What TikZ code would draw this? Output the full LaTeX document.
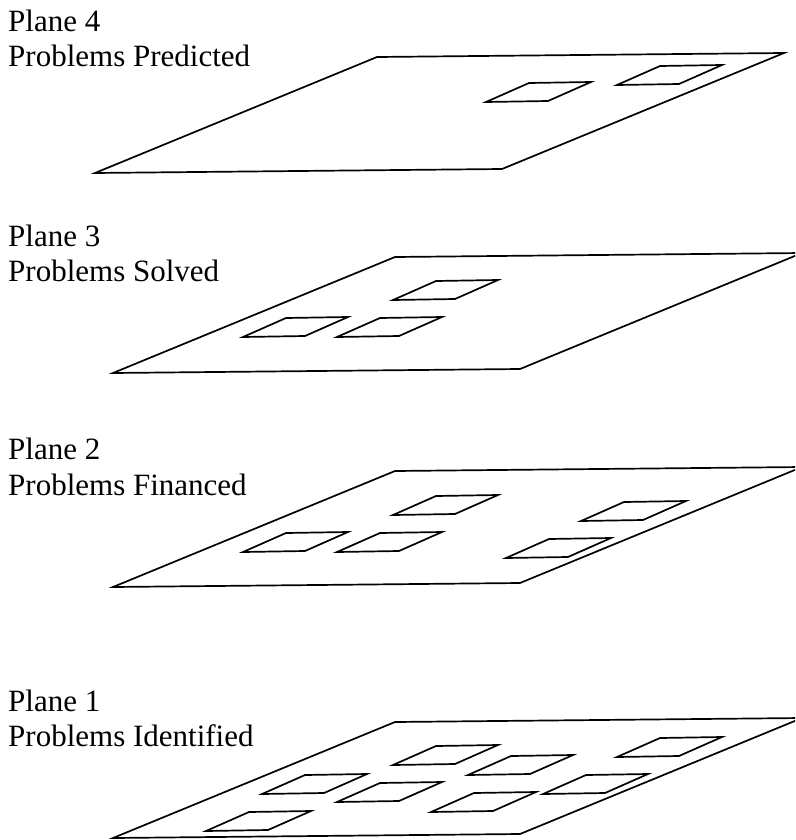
\documentclass[tikz,border=0pt]{standalone}
\usepackage{fontspec}
\setmainfont{Liberation Serif}
\usetikzlibrary{calc}
\begin{document}
\begin{tikzpicture}[x=1pt,y=-1pt,
  outline/.style={draw=black,line width=1.7pt},
  label/.style={anchor=base west,inner sep=0pt,font=\fontsize{31}{35}\selectfont}]
\useasboundingbox (0,0) rectangle (795,840);
\clip (0,0) rectangle (795,840);
% a plane, given by its lower left corner
\newcommand\planeshape[1]{%
  \draw[outline] (#1) -- ++(282,-116) -- ++(407,-4) -- ++(-282,116) -- cycle;}
% a small problem tile, given by its lower left corner
\newcommand\tileshape[1]{%
  \draw[outline] (#1) -- ++(43,-19) -- ++(62,-1) -- ++(-43,19) -- cycle;}

% Plane 4
\node[label] (p4a) at (8,32) {Plane 4};
\node[label] (p4b) at (8,67) {Problems Predicted};
\coordinate (o4) at (95,173);
\planeshape{o4}
\tileshape{$(o4)+(391,-71)$}
\tileshape{$(o4)+(522,-88)$}

% Plane 3
\node[label] (p3a) at (8,246) {Plane 3};
\node[label] (p3b) at (8,281) {Problems Solved};
\coordinate (o3) at (113,373);
\planeshape{o3}
\tileshape{$(o3)+(280,-73)$}
\tileshape{$(o3)+(130,-36)$}
\tileshape{$(o3)+(224,-36)$}

% Plane 2
\node[label] (p2a) at (8,459) {Plane 2};
\node[label] (p2b) at (8,495) {Problems Financed};
\coordinate (o2) at (113,587);
\planeshape{o2}
\tileshape{$(o2)+(280,-72)$}
\tileshape{$(o2)+(130,-35)$}
\tileshape{$(o2)+(224,-35)$}
\tileshape{$(o2)+(468,-66)$}
\tileshape{$(o2)+(393,-29)$}

% Plane 1
\node[label] (p1a) at (8,711) {Plane 1};
\node[label] (p1b) at (8,746) {Problems Identified};
\coordinate (o1) at (113,838);
\planeshape{o1}
\tileshape{$(o1)+(280,-73)$}
\tileshape{$(o1)+(355,-63)$}
\tileshape{$(o1)+(504,-81)$}
\tileshape{$(o1)+(149,-44)$}
\tileshape{$(o1)+(224,-36)$}
\tileshape{$(o1)+(318,-26)$}
\tileshape{$(o1)+(430,-44)$}
\tileshape{$(o1)+(93,-7)$}
\end{tikzpicture}
\end{document}
